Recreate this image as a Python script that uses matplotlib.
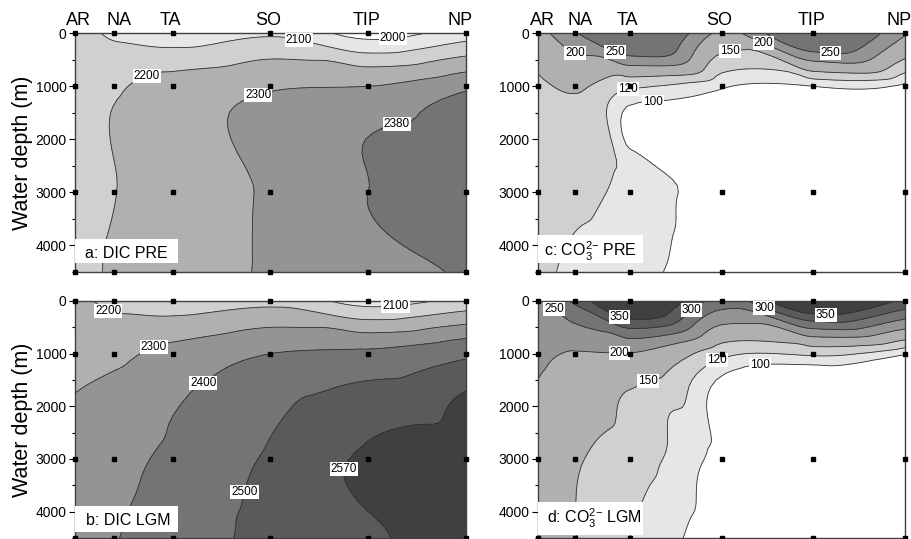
import numpy as np
import matplotlib
matplotlib.use("Agg")
import matplotlib.pyplot as plt
import matplotlib.tri as mtri
from matplotlib.patches import Rectangle
from matplotlib.ticker import MultipleLocator
from matplotlib.transforms import ScaledTranslation

plt.rcParams['font.family'] = ['Liberation Sans', 'DejaVu Sans']
plt.rcParams['mathtext.fontset'] = 'custom'
plt.rcParams['mathtext.rm'] = 'Liberation Sans'
plt.rcParams['mathtext.it'] = 'Liberation Sans:italic'

# stations along the section and the sampled depths
stations = ['AR', 'NA', 'TA', 'SO', 'TIP', 'NP']
station_x = [0, 2, 5, 10, 15, 20]
depths = [0, 1000, 3000, 4500]

# values read at the grid dots, one row per depth
dic_pre = [[2150, 2080, 2040, 2085, 1960, 2050],
           [2170, 2190, 2240, 2290, 2300, 2365],
           [2175, 2198, 2250, 2310, 2380, 2410],
           [2175, 2210, 2255, 2310, 2360, 2385]]
dic_lgm = [[2230, 2170, 2140, 2170, 2060, 2130],
           [2270, 2280, 2330, 2400, 2420, 2480],
           [2340, 2370, 2420, 2510, 2580, 2600],
           [2350, 2395, 2440, 2530, 2560, 2600]]
co3_pre = [[180, 245, 360, 190, 340, 205],
           [145, 155, 124, 103, 100, 95],
           [140, 128, 114, 90, 85, 85],
           [130, 112, 106, 90, 85, 85]]
co3_lgm = [[240, 310, 440, 280, 430, 340],
           [210, 197, 198, 128, 125, 102],
           [185, 155, 135, 94, 88, 88],
           [200, 152, 120, 90, 88, 88]]

dic_pre_levels = [2000, 2100, 2200, 2300, 2380]
dic_lgm_levels = [2100, 2200, 2300, 2400, 2500, 2570]
co3_pre_levels = [100, 120, 150, 200, 250]
co3_lgm_levels = [100, 120, 150, 200, 250, 300, 350]

greys = ['#ffffff', '#e6e6e6', '#d0d0d0', '#b0b0b0', '#949494', '#747474', '#5a5a5a', '#404040']

# where the contour labels sit (station units, depth)
dic_pre_labels = [(2000, 16.3, 90), (2100, 11.4, 260), (2200, 3.8, 920), (2300, 9.8, 1600), (2380, 16.5, 1750)]
dic_lgm_labels = [(2100, 16.4, 95), (2200, 1.6, 285), (2300, 4.1, 930), (2400, 6.4, 1480),
                  (2500, 8.5, 3590), (2570, 14.2, 3210)]
co3_pre_labels = [(250, 4.2, 315), (250, 16.1, 125), (200, 2.0, 490), (200, 12.3, 260), (150, 10.6, 560),
                  (120, 4.85, 1040), (100, 6.3, 1450)]
co3_lgm_labels = [(250, 0.75, 190), (350, 4.5, 230), (350, 15.7, 95), (300, 8.2, 95), (300, 12.3, 95),
                  (200, 4.5, 990), (150, 5.9, 1390), (120, 9.8, 1110), (100, 12.1, 1420)]

# small sideways nudges of the station names, in pixels
name_shift = [4, 5, -2, -2, -2, -6]

YSCALE = 225.0  # depth scaling so the smoothing sees a square-ish grid


def smooth_field(z):
    X, Y = np.meshgrid(station_x, depths)
    x = X.ravel().astype(float)
    y = Y.ravel().astype(float) / YSCALE
    ncol = len(station_x)
    tris = []
    for j in range(len(depths) - 1):
        for i in range(ncol - 1):
            p = j * ncol + i
            tris.append([p, p + 1, p + ncol + 1])
            tris.append([p, p + ncol + 1, p + ncol])
    tri = mtri.Triangulation(x, y, np.array(tris))
    zz = np.asarray(z, dtype=float).ravel()
    interp = mtri.CubicTriInterpolator(tri, zz, kind='geom')
    refiner = mtri.UniformTriRefiner(tri)
    tri_f, z_f = refiner.refine_field(zz, triinterpolator=interp, subdiv=4)
    return mtri.Triangulation(tri_f.x, tri_f.y * YSCALE, tri_f.triangles), z_f


def put_label(ax, cs, levels, lev, px, py):
    # snap the label onto the nearest point of its own contour
    v = cs.get_paths()[levels.index(lev)].vertices
    if len(v):
        d = ((v[:, 0] - px) / 20.0 * 390) ** 2 + ((v[:, 1] - py) / 4500.0 * 238) ** 2
        k = np.argmin(d)
        px, py = v[k]
    ax.text(px, py, str(lev), fontsize=8.5, ha='center', va='center', zorder=4,
            bbox=dict(boxstyle='square,pad=0.08', fc='white', ec='none'))


def draw_panel(fig, ax, z, levels, colors, labels, tag, top_labels, ylabel, tag_box):
    tri, zf = smooth_field(z)
    bounds = [-1e9] + levels + [1e9]
    ax.tricontourf(tri, zf, levels=bounds, colors=colors)
    cs = ax.tricontour(tri, zf, levels=levels, colors='#303030', linewidths=0.6)
    for lev, px, py in labels:
        put_label(ax, cs, levels, lev, px, py)
    X, Y = np.meshgrid(station_x, depths)
    ax.plot(X.ravel(), Y.ravel(), 's', color='black', ms=2.2, clip_on=False, zorder=5)

    ax.set_xlim(station_x[0], station_x[-1])
    ax.set_ylim(4500, 0)
    ax.yaxis.set_major_locator(MultipleLocator(1000))
    ax.yaxis.set_minor_locator(MultipleLocator(500))
    ax.tick_params(axis='y', which='major', direction='out', length=4, width=0.8, labelsize=10, pad=2)
    ax.tick_params(axis='y', which='minor', direction='out', length=2, width=0.8)
    ax.xaxis.tick_top()
    ax.set_xticks(station_x)
    if top_labels:
        ax.set_xticklabels(stations, fontsize=13)
        ax.tick_params(axis='x', length=0, pad=3)
        for lbl, dx in zip(ax.get_xticklabels(), name_shift):
            lbl.set_transform(lbl.get_transform() + ScaledTranslation(dx / 100.0, 0, fig.dpi_scale_trans))
    else:
        ax.tick_params(axis='x', length=0, labeltop=False)
    for sp in ax.spines.values():
        sp.set_color('#404040')
        sp.set_linewidth(1.0)
    if ylabel:
        ax.set_ylabel('Water depth (m)', fontsize=15.5, labelpad=2)

    # white panel tag box in the lower left corner
    bw, by, bh, tx, ty = tag_box
    ax.add_patch(Rectangle((0, by), bw, bh, transform=ax.transAxes, fc='white', ec='none', zorder=6))
    ax.text(tx, ty, tag, transform=ax.transAxes, fontsize=11.5, ha='left', va='baseline', zorder=7)


fig = plt.figure(figsize=(9.12, 5.39), dpi=100)
ax_a = fig.add_axes([0.0822, 0.4959, 0.4287, 0.4423])
ax_b = fig.add_axes([0.0822, 0.0019, 0.4287, 0.4397])
ax_c = fig.add_axes([0.5900, 0.4959, 0.4024, 0.4423])
ax_d = fig.add_axes([0.5900, 0.0019, 0.4024, 0.4397])

draw_panel(fig, ax_a, dic_pre, dic_pre_levels, greys[:6], dic_pre_labels, 'a: DIC PRE', True, True,
           (0.263, 0.036, 0.102, 0.026, 0.058))
draw_panel(fig, ax_b, dic_lgm, dic_lgm_levels, greys[1:8], dic_lgm_labels, 'b: DIC LGM', False, True,
           (0.263, 0.025, 0.108, 0.028, 0.055))
draw_panel(fig, ax_c, co3_pre, co3_pre_levels, greys[:6], co3_pre_labels, r'c: CO$_3^{2\mathrm{-}}$ PRE',
           True, False, (0.286, 0.035, 0.118, 0.016, 0.062))
draw_panel(fig, ax_d, co3_lgm, co3_lgm_levels, greys[:8], co3_lgm_labels, r'd: CO$_3^{2\mathrm{-}}$ LGM',
           False, False, (0.286, 0.013, 0.139, 0.024, 0.063))

fig.savefig('out.png', dpi=100)
